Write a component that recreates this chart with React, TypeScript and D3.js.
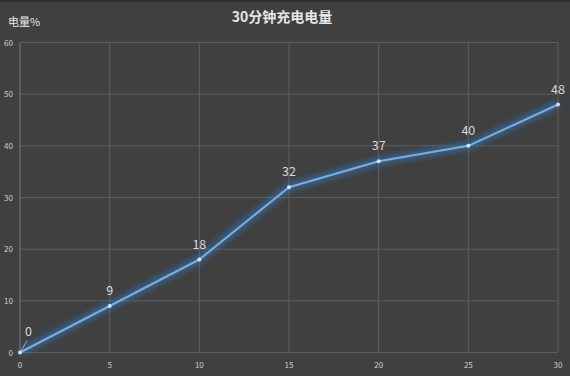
import React from "react";
import * as d3 from "d3";

const minutes = [0, 5, 10, 15, 20, 25, 30];
const charge = [0, 9, 18, 32, 37, 40, 48];
const xTicks = [0, 5, 10, 15, 20, 25, 30];
const yTicks = [0, 10, 20, 30, 40, 50, 60];
const title = "30分钟充电电量";
const yTitle = "电量%";

export default function App() {
  const W = 570, H = 376;
  const x = d3.scaleLinear().domain([0, 30]).range([20, 558]);
  const y = d3.scaleLinear().domain([0, 60]).range([352.5, 42.5]);
  const pts = minutes.map((m, i) => [x(m), y(charge[i])] as [number, number]);
  const line = d3.line()(pts) || "";
  const font = "'Microsoft YaHei','Noto Sans CJK SC','Noto Sans',sans-serif";
  return (
    <svg width={W} height={H} style={{ position: "fixed", left: 0, top: 0, display: "block" }}>
      <defs>
        <filter id="glow" x="-20%" y="-20%" width="140%" height="140%">
          <feGaussianBlur stdDeviation="3" />
        </filter>
      </defs>
      <rect x={0} y={0} width={W} height={H} fill="#404040" />
      <rect x={0} y={0} width={W} height={2} fill="#2e2e2e" />
      {yTicks.map((t) => (
        <g key={"y" + t}>
          <line x1={x(0)} x2={x(30)} y1={y(t)} y2={y(t)} stroke="#5e5e5e" strokeWidth={1} />
          <text x={13} y={y(t) + 3} fontSize={8} fill="#cfcfcf" textAnchor="end" fontFamily={font}>{t}</text>
        </g>
      ))}
      {xTicks.map((t) => (
        <g key={"x" + t}>
          <line x1={x(t)} x2={x(t)} y1={y(0)} y2={y(60)} stroke="#5e5e5e" strokeWidth={1} />
          <text x={x(t)} y={368} fontSize={8} fill="#cfcfcf" textAnchor="middle" fontFamily={font}>{t}</text>
        </g>
      ))}
      <line x1={x(0)} x2={x(0)} y1={y(0)} y2={y(60)} stroke="#6a6a6a" />
      <text x={282} y={22} fontSize={14} fontWeight="bold" fill="#e6e6e6" textAnchor="middle" fontFamily={font}>{title}</text>
      <text x={8} y={26} fontSize={11} fill="#e6e6e6" fontFamily={font}>{yTitle}</text>
      <path d={line} fill="none" stroke="#2f7fd0" strokeWidth={7} strokeOpacity={0.6} filter="url(#glow)" strokeLinejoin="round" />
      <path d={line} fill="none" stroke="#7aaedf" strokeWidth={2} strokeLinejoin="round" />
      {pts.map(([px, py], i) => (
        <circle key={"p" + i} cx={px} cy={py} r={2} fill="#cfe3f7" />
      ))}
      <line x1={pts[0][0] + 1} y1={pts[0][1] - 1} x2={pts[0][0] + 7} y2={pts[0][1] - 12} stroke="#bdbdbd" strokeWidth={0.8} />
      {pts.map(([px, py], i) =>
        i === 0 ? (
          <text key={"l" + i} x={px + 8.5} y={py - 17} fontSize={12.5} fill="#d9d9d9" textAnchor="middle" fontFamily={font}>{charge[i]}</text>
        ) : (
          <text key={"l" + i} x={px} y={py - 11} fontSize={12.5} fill="#d9d9d9" textAnchor="middle" fontFamily={font}>{charge[i]}</text>
        )
      )}
    </svg>
  );
}
